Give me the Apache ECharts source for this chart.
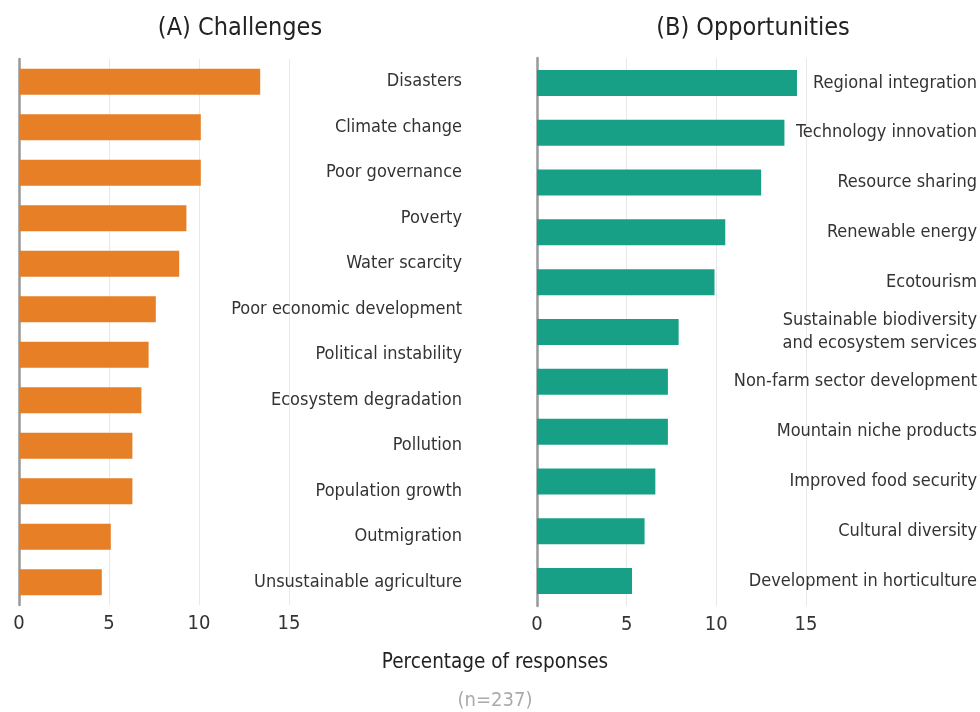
<!DOCTYPE html>
<html>
<head>
<meta charset="utf-8">
<script src="https://cdn.jsdelivr.net/npm/echarts@6/dist/echarts.min.js"></script>
<style>
  html, body { margin: 0; padding: 0; background: #fff; }
  #chart { width: 980px; height: 712px; }
</style>
</head>
<body>
<div id="chart"></div>
<script>
// challenges (left panel)
const challengeNames = [
  "Disasters", "Climate change", "Poor governance", "Poverty", "Water scarcity",
  "Poor economic development", "Political instability", "Ecosystem degradation",
  "Pollution", "Population growth", "Outmigration", "Unsustainable agriculture"
];
const challengeValues = [13.4, 10.1, 10.1, 9.3, 8.9, 7.6, 7.2, 6.8, 6.3, 6.3, 5.1, 4.6];

// opportunities (right panel)
const opportunityNames = [
  "Regional integration", "Technology innovation", "Resource sharing", "Renewable energy",
  "Ecotourism", "Sustainable biodiversity\nand ecosystem services", "Non-farm sector development",
  "Mountain niche products", "Improved food security", "Cultural diversity",
  "Development in horticulture"
];
const opportunityValues = [14.5, 13.8, 12.5, 10.5, 9.9, 7.9, 7.3, 7.3, 6.6, 6.0, 5.3];

const tickValues = [0, 5, 10, 15];

const FONT = "'DejaVu Sans Condensed', 'Roboto', sans-serif";
const TEXT = "#333";

// x axis: only 0-15 ticked, the rest of the width is room for labels
function makeX(gridIndex, max) {
  return {
    type: "value",
    gridIndex: gridIndex,
    min: 0,
    max: max,
    axisLine: { show: false },
    axisTick: { show: false, customValues: tickValues },
    splitLine: {
      show: true,
      lineStyle: { color: "#e8e8e8", width: 1 }
    },
    axisLabel: {
      customValues: tickValues,
      color: TEXT,
      fontFamily: FONT,
      fontSize: 20,
      margin: 9
    }
  };
}

// left axis line (no labels)
function makeYLine(gridIndex, names) {
  return {
    type: "category",
    gridIndex: gridIndex,
    data: names,
    inverse: true,
    position: "left",
    axisLine: { show: true, lineStyle: { color: "#999", width: 2.5 } },
    axisTick: { show: false },
    axisLabel: { show: false },
    splitLine: { show: false }
  };
}

// right-side labels, drawn inside the grid
function makeYLabels(gridIndex, names) {
  return {
    type: "category",
    gridIndex: gridIndex,
    data: names,
    inverse: true,
    position: "right",
    axisLine: { show: false },
    axisTick: { show: false },
    splitLine: { show: false },
    axisLabel: {
      inside: true,
      margin: 0,
      color: TEXT,
      fontFamily: FONT,
      fontSize: 18,
      lineHeight: 23
    }
  };
}

const chart = echarts.init(document.getElementById("chart"));

const option = {
  animation: false,
  backgroundColor: "#fff",
  title: [
    {
      text: "(A) Challenges", left: 235, top: 11, textAlign: "center",
      textStyle: { fontFamily: FONT, fontSize: 25, fontWeight: "normal", color: "#222" }
    },
    {
      text: "(B) Opportunities", left: 748, top: 11, textAlign: "center",
      textStyle: { fontFamily: FONT, fontSize: 25, fontWeight: "normal", color: "#222" }
    },
    {
      text: "Percentage of responses", left: 490, top: 647, textAlign: "center",
      textStyle: { fontFamily: FONT, fontSize: 20.5, fontWeight: "normal", color: "#222" }
    },
    {
      text: "(n=237)", left: 490, top: 686, textAlign: "center",
      textStyle: { fontFamily: FONT, fontSize: 20, fontWeight: "normal", color: "#aaa" }
    }
  ],
  grid: [
    { left: 19, top: 59, width: 443, height: 546 },
    { left: 537, top: 58, width: 440, height: 548 }
  ],
  xAxis: [
    makeX(0, 443 / 18),
    makeX(1, 440 / 17.93)
  ],
  yAxis: [
    makeYLine(0, challengeNames),
    makeYLabels(0, challengeNames),
    makeYLine(1, opportunityNames),
    makeYLabels(1, opportunityNames)
  ],
  series: [
    {
      type: "bar",
      xAxisIndex: 0,
      yAxisIndex: 0,
      data: challengeValues,
      barWidth: 26,
      itemStyle: { color: "#E67F26" }
    },
    {
      type: "bar",
      xAxisIndex: 1,
      yAxisIndex: 2,
      data: opportunityValues,
      barWidth: 26,
      itemStyle: { color: "#17A086" }
    }
  ]
};

chart.setOption(option);
</script>
</body>
</html>
